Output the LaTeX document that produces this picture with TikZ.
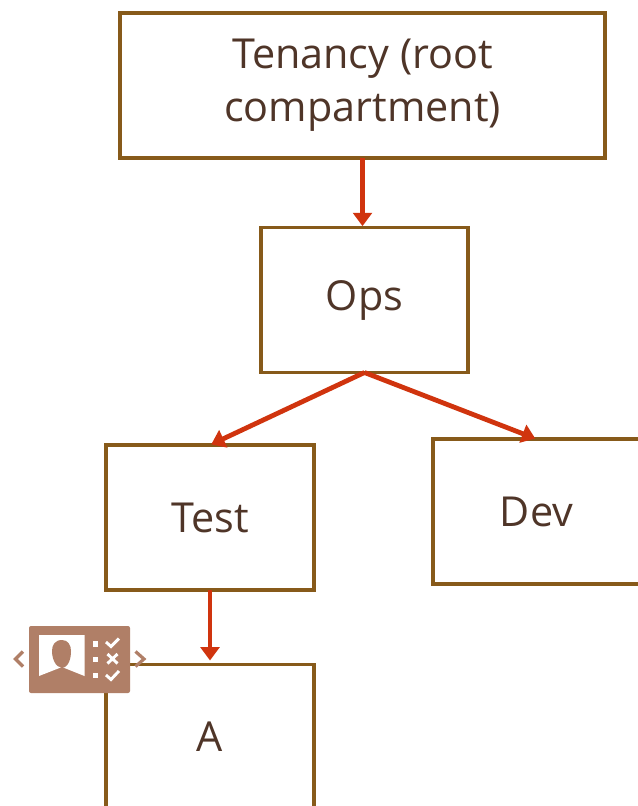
\documentclass[tikz,border=0pt]{standalone}
\usepackage{fontspec}
\setmainfont{Open Sans}
\usetikzlibrary{arrows.meta}
\definecolor{boxc}{HTML}{875A1A}
\definecolor{arrowc}{HTML}{D0340E}
\definecolor{textc}{HTML}{4F3528}
\definecolor{iconc}{HTML}{B07F67}
\tikzset{
  unitbox/.style={draw=boxc,line width=2.9pt,fill=white,text=textc,inner sep=0pt,outer sep=0pt,align=center,
    font=\fontsize{31pt}{40pt}\selectfont,minimum height=108.75pt},
  link/.style={draw=arrowc,line width=3.6pt,-{Triangle[length=10pt,width=14pt]},shorten >=1pt},
}
\begin{document}
\begin{tikzpicture}[x=0.75pt,y=-0.75pt]
\useasboundingbox (0,0) rectangle (638,806);
\clip (0,0) rectangle (638,806);
\node[unitbox,minimum width=363.75pt] (ten) at (362.5,85.5) {Tenancy (root\\compartment)};
\node[unitbox,minimum width=155.25pt] (ops) at (364.5,300) {Ops};
\node[unitbox,minimum width=156pt] (test) at (210,517.5) {Test};
\node[unitbox,minimum width=155.25pt] (dev) at (536.5,511.5) {Dev};
\node[unitbox,minimum width=156pt] (a) at (210,737) {A};
\draw[link] (ten.south) -- (ten.south |- ops.north);
\draw[link] (ops.south) -- (test.north);
\draw[link] (ops.south) -- (dev.north);
\draw[link,shorten >=3pt] (test.south) -- (a.north);
% icon
\fill[iconc,rounded corners=1.5pt] (29,626) rectangle (130,693);
\fill[white] (39,635) -- (84.5,635) -- (84.5,676) -- (62,667) -- (39,676) -- cycle;
\fill[iconc] (62,640) .. controls (55,640) and (52,645) .. (52,651) .. controls (52,658) and (55,667) .. (62,668) .. controls (69,667) and (71,658) .. (71,651) .. controls (71,645) and (68,640) .. (62,640) -- cycle;
\fill[white] (92.5,641) rectangle (98,646.5);
\fill[white] (92.5,656.5) rectangle (98,662);
\fill[white] (92.5,673) rectangle (98,678);
\draw[white,line width=2.2pt] (106,642) -- (111,646.5) -- (119,638.5);
\draw[white,line width=2.2pt] (107.5,654) -- (117.5,663.5) (117.5,654) -- (107.5,663.5);
\draw[white,line width=2.2pt] (106,675) -- (111,679.5) -- (119,671);
\draw[iconc,line width=2.4pt] (23,651.5) -- (15.5,659) -- (23,666.5);
\draw[iconc,line width=2.4pt] (135.5,651.5) -- (144,659) -- (135.5,666.5);
\end{tikzpicture}
\end{document}
